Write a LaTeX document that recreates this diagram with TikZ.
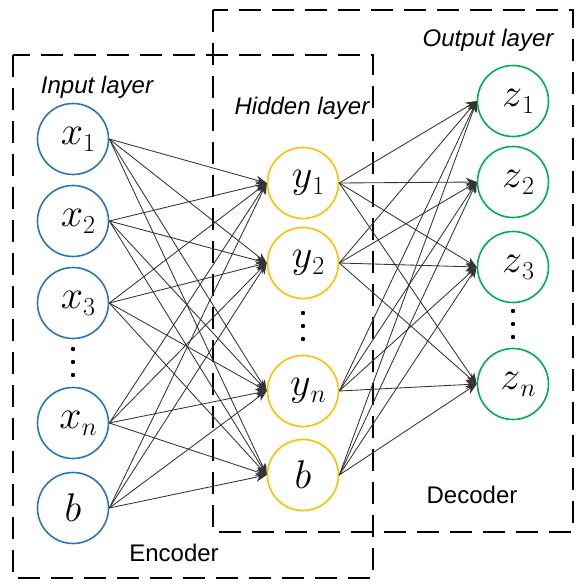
\RequirePackage{fix-cm}
\documentclass[tikz,border=0pt]{standalone}
\usepackage{amsmath}
\usepackage{fontspec}
\setsansfont{Liberation Sans}
\usepackage{tikz}
\usetikzlibrary{arrows.meta,positioning}
\definecolor{inblue}{RGB}{46,117,182}
\definecolor{hidyellow}{RGB}{255,192,0}
\definecolor{outgreen}{RGB}{0,176,80}
\newcommand{\unitlab}[2]{\kern10pt$#1$\raisebox{-7pt}{\fontsize{26}{28}\selectfont$#2$}}

\begin{document}
\begin{tikzpicture}[x=1pt,y=-1pt,
    neuron/.style={circle,draw,fill=white,line width=1.6pt,minimum size=71pt,inner sep=0pt,font=\fontsize{40}{44}\selectfont},
    boxline/.style={line width=2.7pt,dash pattern=on 22pt off 11pt},
    link/.style={-{Stealth[length=11pt,width=9pt]},draw=black!80,line width=0.85pt},
    tag/.style={font=\sffamily\itshape\fontsize{24}{27}\selectfont},
    part/.style={font=\sffamily\fontsize{24}{27}\selectfont}]
    \useasboundingbox(0,0)rectangle(584,587);
    % encoder and decoder boxes
    \draw[boxline](13,55)rectangle(373,578);
    \draw[boxline](213,10)rectangle(573,532);
    % input layer
    \foreach \name/\v/\s/\y in {x1/x/1/139,x2/x/2/221,x3/x/3/303,xn/x/n/423}
      \node[neuron,draw=inblue](\name)at(73,\y){\unitlab{\v}{\s}};
    \node[neuron,draw=inblue](xb)at(73,508){$b$};
    % hidden layer
    \foreach \name/\v/\s/\y in {y1/y/1/183,y2/y/2/263,yn/y/n/391}
      \node[neuron,draw=hidyellow](\name)at(303,\y){\unitlab{\v}{\s}};
    \node[neuron,draw=hidyellow](yb)at(303,475){$b$};
    % output layer
    \foreach \name/\v/\s/\y in {z1/z/1/101,z2/z/2/182,z3/z/3/267,zn/z/n/384}
      \node[neuron,draw=outgreen](\name)at(513,\y){\unitlab{\v}{\s}};
    % vertical dots
    \foreach \cx/\cy in {73/349,303/313,513/311}
      \foreach \k in {0,1,2}
        \fill(\cx,\cy+13*\k)circle(2.2pt);
    % connections
    \foreach \a in {x1,x2,x3,xn,xb}
      \foreach \b in {y1,y2,yn,yb}
        \draw[link](\a.east)--(\b.west);
    \foreach \a in {y1,y2,yn,yb}
      \foreach \b in {z1,z2,z3,zn}
        \draw[link](\a.east)--(\b.west);
    % labels
    \node[tag](inlab)at(97,87){Input layer};
    \node[tag](hidlab)at(302,108){Hidden layer};
    \node[tag](outlab)at(488,40){Output layer};
    \node[part](enclab)at(174,553){Encoder};
    \node[part](declab)at(472,495){Decoder};
  \end{tikzpicture}
\end{document}
